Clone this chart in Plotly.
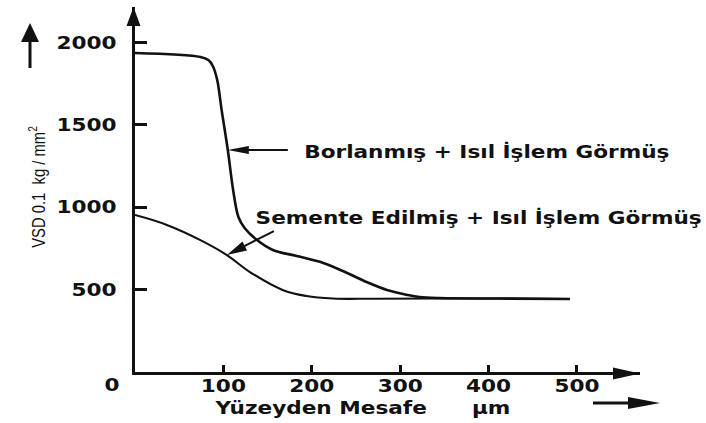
import plotly.graph_objects as go

# Hardness profiles (HV 0.1, kg/mm^2) versus distance from the surface (um)
boride_x = [0, 74, 83, 88, 93, 98, 105, 111, 117, 124, 138, 156, 183, 213, 240, 262, 285, 308, 322, 345, 413, 492]
boride_y = [1937, 1913, 1894, 1858, 1773, 1591, 1348, 1105, 941, 874, 801, 741, 704, 662, 601, 546, 498, 468, 455, 449, 446, 443]

carb_x = [0, 36, 74, 104, 130, 167, 194, 224, 269, 345, 413, 492]
carb_y = [953, 893, 801, 710, 607, 498, 461, 446, 445, 446, 446, 443]

x_ticks = [100, 200, 300, 400, 500]
y_ticks = [500, 1000, 1500, 2000]

label_boride = "Borlanmış + Isıl İşlem Görmüş"
label_carb = "Semente Edilmiş + Isıl İşlem Görmüş"
x_title = "Yüzeyden Mesafe"
x_unit = "µm"
y_title = "VSD 0.1  kg / mm<sup>2</sup>"

W, H = 706, 423
L, R, T, B = 135, 66, 7, 51
X_MAX, Y_MAX = 571.3, 2216

INK = "#111111"
BOLD = dict(family="DejaVu Sans", size=17, color=INK, weight="bold")


def px(v):
    """pixel column -> paper x"""
    return (v - L) / (W - L - R)


def py(v):
    """pixel row -> paper y"""
    return (H - B - v) / (H - T - B)


def tri(dx, dy, length, half):
    """filled arrowhead path (pixel units, y up) with its tip at the anchor,
    pointing away from direction (dx, dy)"""
    n = (dx * dx + dy * dy) ** 0.5
    ux, uy = dx / n, dy / n
    bx, by = ux * length, uy * length
    qx, qy = -uy * half, ux * half
    return f"M0,0 L{bx + qx:.2f},{by + qy:.2f} L{bx - qx:.2f},{by - qy:.2f} Z"


fig = go.Figure()
fig.add_trace(go.Scatter(x=boride_x, y=boride_y, mode="lines",
                         line=dict(color=INK, width=2.6, shape="spline", smoothing=1.0),
                         hoverinfo="skip", showlegend=False))
fig.add_trace(go.Scatter(x=carb_x, y=carb_y, mode="lines",
                         line=dict(color=INK, width=2.1, shape="spline", smoothing=1.1),
                         hoverinfo="skip", showlegend=False))

annotations = [
    dict(x=px(487), y=py(151), text=label_boride),
    dict(x=px(478), y=py(217), text=label_carb),
    dict(x=px(320), y=py(408), text=x_title),
    dict(x=px(491), y=py(408), text=x_unit),
    dict(x=px(112), y=py(385), text="0"),
]
for a in annotations:
    a.update(xref="paper", yref="paper", showarrow=False, xanchor="center",
             yanchor="middle", font=BOLD)
annotations.append(
    dict(x=px(37), y=py(187), xref="paper", yref="paper", text=y_title, showarrow=False,
         textangle=-90, xanchor="center", yanchor="middle",
         font=dict(family="Liberation Sans", size=18.5, color=INK)))

PIX = dict(xsizemode="pixel", ysizemode="pixel")
shapes = [
    # arrowhead on the y axis
    dict(type="path", xref="paper", yref="paper", xanchor=px(133.5), yanchor=1,
         path=tri(0, -1, 19, 7), fillcolor=INK, line=dict(width=0), **PIX),
    # arrowhead on the x axis
    dict(type="path", xref="paper", yref="paper", xanchor=1, yanchor=py(373.5),
         path=tri(-1, 0, 27, 6), fillcolor=INK, line=dict(width=0), **PIX),
    # direction arrow beside the y title
    dict(type="line", xref="paper", yref="paper", x0=px(30), x1=px(30), y0=py(68), y1=py(38),
         line=dict(color=INK, width=3)),
    dict(type="path", xref="paper", yref="paper", xanchor=px(30), yanchor=py(23),
         path=tri(0, -1, 19, 9), fillcolor=INK, line=dict(width=0), **PIX),
    # direction arrow beside the x title
    dict(type="line", xref="paper", yref="paper", x0=px(593), x1=px(632), y0=py(403), y1=py(403),
         line=dict(color=INK, width=3)),
    dict(type="path", xref="paper", yref="paper", xanchor=px(660), yanchor=py(403),
         path=tri(-1, 0, 32, 6), fillcolor=INK, line=dict(width=0), **PIX),
    # pointer from the boride label to its curve
    dict(type="line", xref="x", yref="y", xanchor=boride_x[6], yanchor=boride_y[6],
         x0=16, x1=60, y0=0, y1=0, line=dict(color=INK, width=2), **PIX),
    dict(type="path", xref="x", yref="y", xanchor=boride_x[6], yanchor=boride_y[6],
         path=tri(1, 0, 21, 4), fillcolor=INK, line=dict(width=0), **PIX),
    # pointer from the carburised label to its curve
    dict(type="line", xref="x", yref="y", xanchor=carb_x[3], yanchor=carb_y[3],
         x0=16, x1=47, y0=8.2, y1=24, line=dict(color=INK, width=2), **PIX),
    dict(type="path", xref="x", yref="y", xanchor=carb_x[3], yanchor=carb_y[3],
         path=tri(47, 24, 20, 5), fillcolor=INK, line=dict(width=0), **PIX),
]

fig.update_layout(
    width=W, height=H, autosize=False,
    margin=dict(l=L, r=R, t=T, b=B, pad=0),
    paper_bgcolor="white", plot_bgcolor="white",
    annotations=annotations, shapes=shapes,
    xaxis=dict(range=[0, X_MAX], tickvals=x_ticks, ticks="inside", ticklen=7, tickwidth=2.5,
               tickcolor=INK, showline=True, linewidth=3, linecolor=INK, showgrid=False,
               zeroline=False, tickfont=BOLD, ticklabelstandoff=-3, fixedrange=True),
    yaxis=dict(range=[0, Y_MAX], tickvals=y_ticks, ticks="inside", ticklen=12, tickwidth=2.5,
               tickcolor=INK, showline=True, linewidth=3, linecolor=INK, showgrid=False,
               zeroline=False, tickfont=BOLD, ticklabelstandoff=12, fixedrange=True),
)

# The bold lettering is set in a wide face and the axis title in a condensed one:
# widen or narrow each label horizontally.
reshape_text = """
var gd = document.getElementById('{plot_id}');
gd.querySelectorAll('text.annotation-text, g.xtick text, g.ytick text').forEach(function (t) {
  var k = (t.style.fontFamily || '').indexOf('Liberation') !== -1 ? 0.8 : 1.27;
  var w = t.getComputedTextLength();
  if (w > 0) {
    t.setAttribute('textLength', (w * k).toFixed(1));
    t.setAttribute('lengthAdjust', 'spacingAndGlyphs');
  }
});
"""

fig.write_html("out.html", post_script=reshape_text)
